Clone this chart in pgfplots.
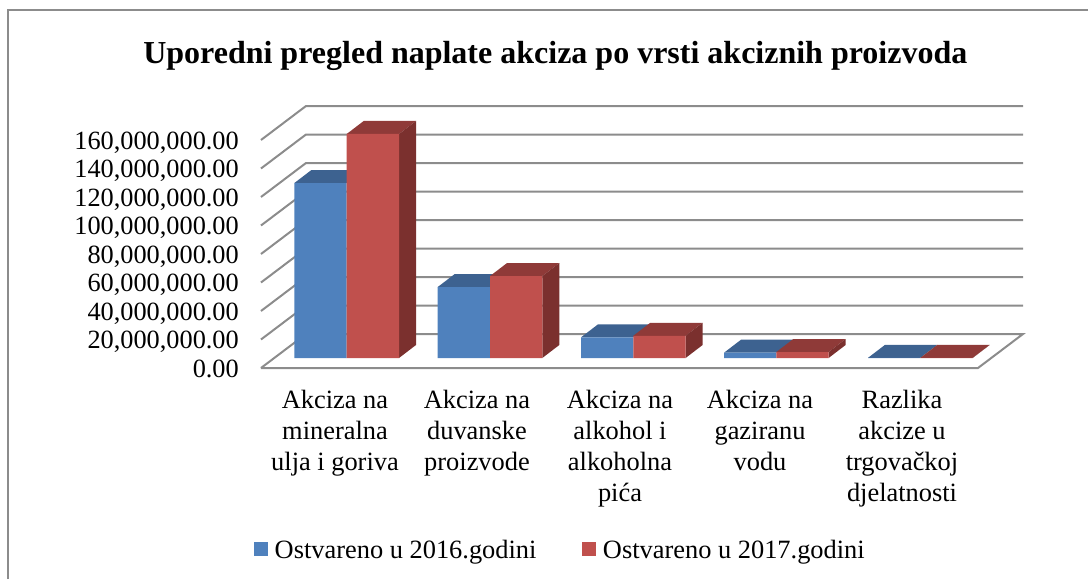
\documentclass[border=0pt]{standalone}
\usepackage{pgfplots}
\pgfplotsset{compat=1.18}
\usepackage{fontspec}
\setmainfont{Liberation Serif}
\definecolor{gridc}{HTML}{8C8C8C}
\definecolor{bfront}{HTML}{4F81BD}
\definecolor{btop}{HTML}{3D6290}
\definecolor{rfront}{HTML}{C0504D}
\definecolor{rtop}{HTML}{8F3A38}
\definecolor{rside}{HTML}{7B302E}
\begin{document}
\begin{tikzpicture}[x=1pt,y=1pt]
\path[use as bounding box] (0,0) rectangle (1088,579);
\begin{axis}[
  at={(261pt,211pt)}, anchor=south west,
  scale only axis, width=717pt, height=228pt,
  xmin=261, xmax=978, ymin=0, ymax=160000000,
  clip=false,
  axis line style={draw=none},
  tick style={draw=none},
  scaled y ticks=false,
  ytick={0,20000000,40000000,60000000,80000000,100000000,120000000,140000000,160000000},
  yticklabels={0.00,{20,000,000.00},{40,000,000.00},{60,000,000.00},{80,000,000.00},{100,000,000.00},{120,000,000.00},{140,000,000.00},{160,000,000.00}},
  yticklabel style={font=\fontsize{26.3}{28}\selectfont, anchor=east, xshift=-22pt, inner sep=0pt, text height=17.8pt, text depth=0pt, yshift=-0.5pt},
  xtick={335,477,620,760,902},
  xticklabels={{Akciza na\\mineralna\\ulja i goriva},{Akciza na\\duvanske\\proizvode},{Akciza na\\alkohol i\\alkoholna\\pića},{Akciza na\\gaziranu\\vodu},{Razlika\\akcize u\\trgovačkoj\\djelatnosti}},
  xticklabel style={font=\fontsize{26.4}{31}\selectfont, align=center, anchor=north, yshift=-22pt, inner sep=0pt},
  every axis title shift=0pt,
  title={\textbf{Uporedni pregled naplate akciza po vrsti akciznih proizvoda}},
  title style={font=\fontsize{32}{34}\selectfont, at={(axis description cs:0.4105,1.3685)}, anchor=center, inner sep=0pt},
  legend columns=2,
  legend style={at={(axis description cs:0.4177,-0.80)}, anchor=center, draw=none, fill=none, font=\fontsize{26.4}{28}\selectfont,
    /tikz/every even column/.append style={column sep=44pt},
    /tikz/every odd column/.append style={column sep=4.5pt}, inner sep=0pt},
  legend image code/.code={\fill[#1] (0pt,-16pt) rectangle (14pt,-2pt);},
  grid line/.style={draw=gridc, line width=2pt, forget plot},
  top b/.style={fill=btop, draw=none, forget plot, yshift=10pt},
  top r/.style={fill=rtop, draw=none, forget plot, yshift=10pt},
  side r/.style={fill=rside, draw=none, forget plot, yshift=10pt},
  front/.style={ybar, bar width=52.3pt, bar shift=0pt, draw=none, yshift=10pt},
]
% walls and floor
\addplot[grid line] coordinates {(261,0)(306,23860000)(1023,23860000)(978,0)(261,0)};
\addplot[grid line] coordinates {(261,20000000)(306,43860000)(1023,43860000)};
\addplot[grid line] coordinates {(261,40000000)(306,63860000)(1023,63860000)};
\addplot[grid line] coordinates {(261,60000000)(306,83860000)(1023,83860000)};
\addplot[grid line] coordinates {(261,80000000)(306,103860000)(1023,103860000)};
\addplot[grid line] coordinates {(261,100000000)(306,123860000)(1023,123860000)};
\addplot[grid line] coordinates {(261,120000000)(306,143860000)(1023,143860000)};
\addplot[grid line] coordinates {(261,140000000)(306,163860000)(1023,163860000)};
\addplot[grid line] coordinates {(261,160000000)(306,183860000)(1023,183860000)};
% 2016 tops
\addplot[top b] coordinates {(294.4,122800000)(346.7,122800000)(363.7,131920000)(311.4,131920000)} -- cycle;
\addplot[top b] coordinates {(437.7,49800000)(490,49800000)(507,58920000)(454.7,58920000)} -- cycle;
\addplot[top b] coordinates {(581,14500000)(633.3,14500000)(650.3,23620000)(598,23620000)} -- cycle;
\addplot[top b] coordinates {(724,3700000)(776.3,3700000)(793.3,12820000)(741,12820000)} -- cycle;
\addplot[top b] coordinates {(868,100000)(920.3,100000)(937.3,9220000)(885,9220000)} -- cycle;
% 2016 fronts
\addplot[front, fill=bfront] coordinates {(320.55,122800000)(463.85,49800000)(607.15,14500000)(750.15,3700000)(894.15,100000)};
\addlegendentry{Ostvareno u 2016.godini}
% 2017 tops and sides
\addplot[top r] coordinates {(346.7,157200000)(399,157200000)(416,166320000)(363.7,166320000)} -- cycle;
\addplot[top r] coordinates {(490,57500000)(542.3,57500000)(559.3,66620000)(507,66620000)} -- cycle;
\addplot[top r] coordinates {(633.3,15600000)(685.6,15600000)(702.6,24720000)(650.3,24720000)} -- cycle;
\addplot[top r] coordinates {(776.3,4200000)(828.6,4200000)(845.6,13320000)(793.3,13320000)} -- cycle;
\addplot[top r] coordinates {(920.3,100000)(972.6,100000)(989.6,9220000)(937.3,9220000)} -- cycle;
\addplot[side r] coordinates {(399,0)(416,9120000)(416,166320000)(399,157200000)} -- cycle;
\addplot[side r] coordinates {(542.3,0)(559.3,9120000)(559.3,66620000)(542.3,57500000)} -- cycle;
\addplot[side r] coordinates {(685.6,0)(702.6,9120000)(702.6,24720000)(685.6,15600000)} -- cycle;
\addplot[side r] coordinates {(828.6,0)(845.6,9120000)(845.6,13320000)(828.6,4200000)} -- cycle;
\addplot[side r] coordinates {(972.6,0)(989.6,9120000)(989.6,9220000)(972.6,100000)} -- cycle;
% 2017 fronts
\addplot[front, fill=rfront] coordinates {(372.85,157200000)(516.15,57500000)(659.45,15600000)(802.45,4200000)(946.45,100000)};
\addlegendentry{Ostvareno u 2017.godini}
\end{axis}
\draw[gridc, line width=1.8pt] (8,0) -- (8,569) -- (1088,569);
\end{tikzpicture}
\end{document}
